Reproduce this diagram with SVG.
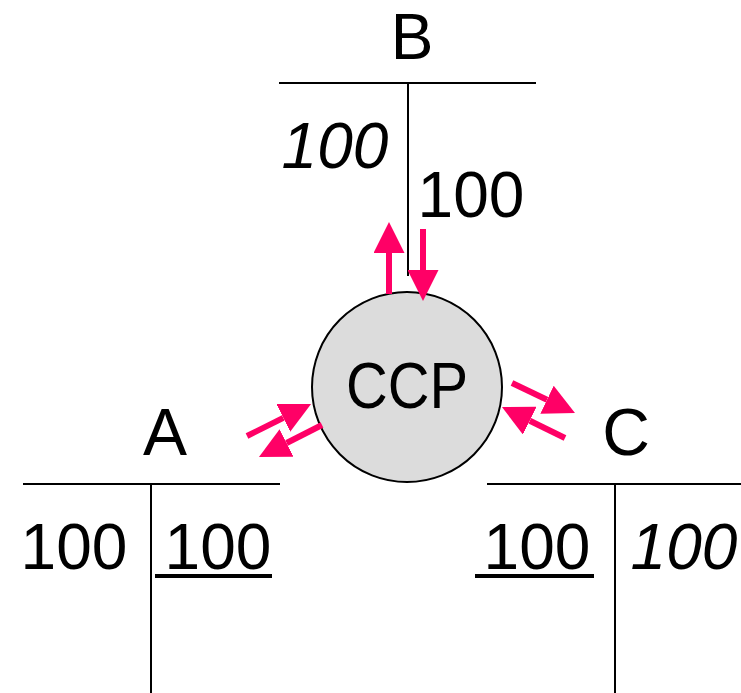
<svg xmlns="http://www.w3.org/2000/svg" width="741" height="693" viewBox="0 0 741 693">
<style>
.t{font-family:"Liberation Sans",Arial,sans-serif;font-size:64px;fill:#000;text-anchor:middle}
.l{font-size:66px}
.i{font-style:italic}
.ln{stroke:#000;stroke-width:2;fill:none}
.ul{fill:#000}
.ar{stroke:#ff0066;stroke-width:6;fill:none;marker-end:url(#ah)}
</style>
<defs>
<marker id="ah" viewBox="0 0 31 31" refX="0" refY="15.5" markerWidth="31" markerHeight="31" markerUnits="userSpaceOnUse" orient="auto">
<path d="M0,0 L31,15.5 L0,31 z" fill="#ff0066"/>
</marker>
</defs>
<rect width="741" height="693" fill="#fff"/>
<g id="accountB">
<line class="ln" x1="279" y1="83" x2="536" y2="83"/>
<line class="ln" x1="408" y1="83" x2="408" y2="276"/>
<text class="t" x="412" y="59">B</text>
<text class="t i" x="335" y="168">100</text>
<text class="t" x="471" y="217">100</text>
</g>
<g id="accountA">
<line class="ln" x1="23" y1="484" x2="280" y2="484"/>
<line class="ln" x1="151" y1="484" x2="151" y2="693"/>
<text class="t l" x="165" y="455">A</text>
<text class="t" x="74" y="569">100</text>
<text class="t" x="218" y="569">100</text>
<rect class="ul" x="155" y="574" width="117" height="4"/>
</g>
<g id="accountC">
<line class="ln" x1="487" y1="484" x2="741" y2="484"/>
<line class="ln" x1="615" y1="484" x2="615" y2="693"/>
<text class="t l" x="626" y="455">C</text>
<text class="t" x="537" y="569">100</text>
<rect class="ul" x="475" y="574" width="119" height="4"/>
<text class="t i" x="684" y="569">100</text>
</g>
<g id="ccp">
<circle cx="407" cy="387" r="95" fill="#dcdcdc" stroke="#000" stroke-width="2"/>
<text class="t" x="407" y="408" textLength="122" lengthAdjust="spacingAndGlyphs">CCP</text>
</g>
<g id="connectors">
<line class="ar" x1="389" y1="294" x2="389" y2="253"/>
<line class="ar" x1="423" y1="229" x2="423" y2="270"/>
<line class="ar" x1="512" y1="383" x2="547" y2="399.7"/>
<line class="ar" x1="565" y1="438" x2="529.8" y2="420.7"/>
<line class="ar" x1="247" y1="436" x2="283.3" y2="417.9"/>
<line class="ar" x1="322" y1="425" x2="286.6" y2="443"/>
</g>
</svg>
